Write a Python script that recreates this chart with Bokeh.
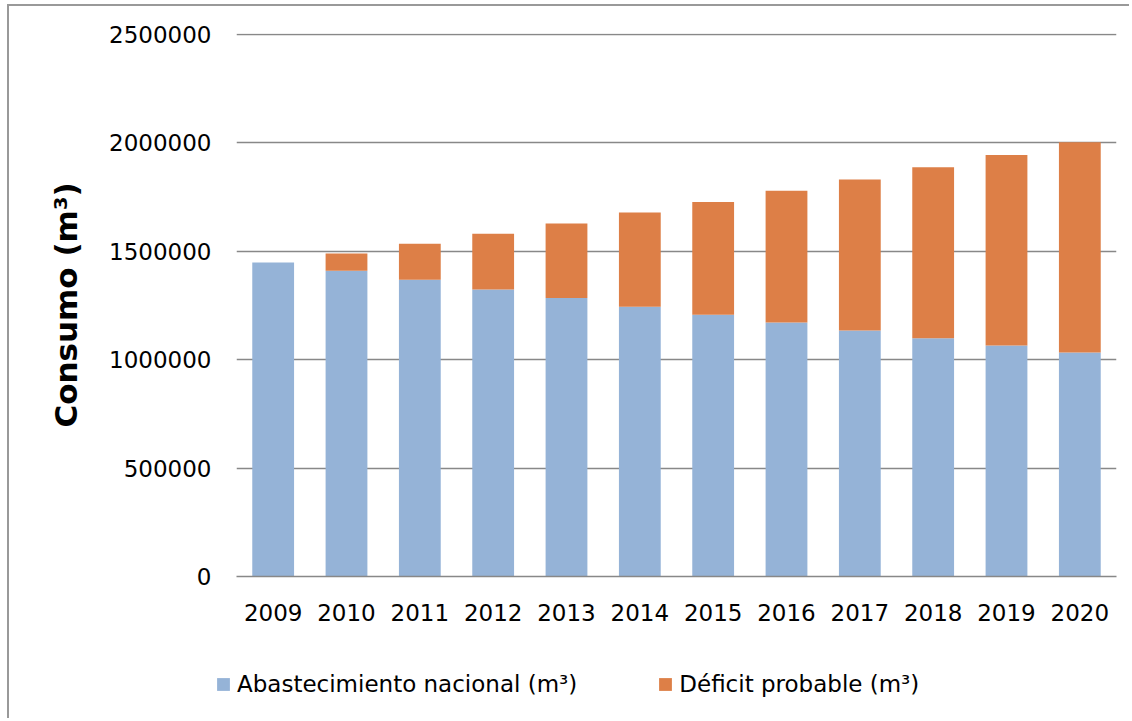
from bokeh.plotting import figure
from bokeh.layouts import column, row
from bokeh.models import ColumnDataSource, Legend, LegendItem, FixedTicker, NumeralTickFormatter
from bokeh.embed import file_html
from bokeh.resources import INLINE

years = ["2009", "2010", "2011", "2012", "2013", "2014", "2015", "2016", "2017", "2018", "2019", "2020"]
abastecimiento = [1448000, 1411000, 1369000, 1324000, 1285000, 1245000, 1208000, 1172000, 1135000, 1099000, 1066000, 1033000]
deficit = [0, 79000, 166000, 257000, 343000, 434000, 520000, 607000, 696000, 789000, 879000, 970000]
y_ticks = [0, 500000, 1000000, 1500000, 2000000, 2500000]
series_names = ["Abastecimiento nacional (m³)", "Déficit probable (m³)"]

BLUE = "#95B3D7"
ORANGE = "#DD7F47"
GRID = "#888888"
FONT = "DejaVu Sans"
FS = "23px"

src = ColumnDataSource(dict(years=years, abast=abastecimiento, deficit=deficit))

p = figure(x_range=years, y_range=(0, 2505000), width=1120, height=630,
           output_backend="svg", toolbar_location=None,
           min_border_left=227, min_border_right=13, min_border_top=27, min_border_bottom=60)

p.vbar_stack(["abast", "deficit"], x="years", width=0.57, color=[BLUE, ORANGE],
             source=src, line_color=None)

p.outline_line_color = None
p.xgrid.grid_line_color = None
p.ygrid.grid_line_color = GRID
p.ygrid.grid_line_width = 1.5
p.yaxis.ticker = FixedTicker(ticks=y_ticks)
p.yaxis.formatter = NumeralTickFormatter(format="0")
p.yaxis.axis_line_color = None
p.yaxis.major_tick_line_color = None
p.yaxis.minor_tick_line_color = None
p.yaxis.major_label_standoff = 19
p.yaxis.major_label_text_font = FONT
p.yaxis.major_label_text_font_size = FS
p.yaxis.major_label_text_color = "#000000"
p.yaxis.axis_label = "Consumo (m³)"
p.yaxis.axis_label_text_font = FONT
p.yaxis.axis_label_text_font_style = "bold"
p.yaxis.axis_label_text_font_size = "31px"
p.yaxis.axis_label_text_color = "#000000"
p.yaxis.axis_label_standoff = 22

p.xaxis.axis_line_color = GRID
p.xaxis.axis_line_width = 1.5
p.xaxis.major_tick_line_color = None
p.xaxis.minor_tick_line_color = None
p.xaxis.major_label_standoff = 21
p.xaxis.major_label_text_font = FONT
p.xaxis.major_label_text_font_size = FS
p.xaxis.major_label_text_color = "#000000"

# legend strip below the chart
lf = figure(x_range=(0, 1), y_range=(0, 1), width=1120, height=82,
            output_backend="svg", toolbar_location=None,
            min_border_left=0, min_border_right=0, min_border_top=0, min_border_bottom=0)
lf.axis.visible = False
lf.grid.visible = False
lf.outline_line_color = None
zero = ColumnDataSource(dict(x=[0.5], top=[0.0]))
lr1 = lf.vbar(x="x", top="top", width=0.1, fill_color=BLUE, line_color=None, source=zero)
lr2 = lf.vbar(x="x", top="top", width=0.1, fill_color=ORANGE, line_color=None, source=zero)

legend = Legend(items=[LegendItem(label=series_names[0], renderers=[lr1]),
                       LegendItem(label=series_names[1], renderers=[lr2])],
                orientation="horizontal", location=(206, 21))
legend.padding = 0
legend.margin = 0
legend.spacing = 80
legend.glyph_width = 16
legend.glyph_height = 16
legend.label_standoff = 6
legend.label_height = 22
legend.label_text_font = FONT
legend.label_text_font_size = FS
legend.label_text_color = "#000000"
legend.border_line_color = None
legend.background_fill_alpha = 0
lf.add_layout(legend, "center")

layout = column(p, row(lf, spacing=0), spacing=0)
layout.styles = {"border-left": "2px solid #999999", "border-top": "2px solid #999999",
                 "margin-left": "7px", "margin-top": "4px"}

open("out.html", "w").write(file_html(layout, INLINE))
